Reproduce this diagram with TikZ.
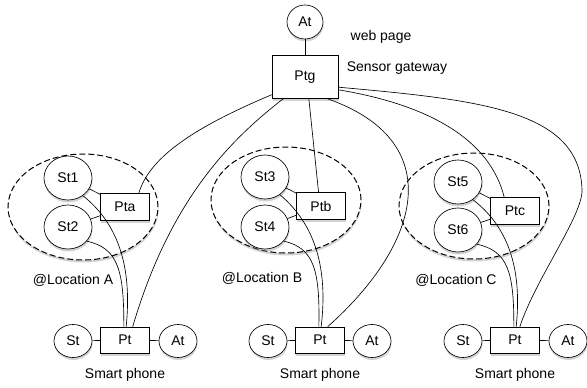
\documentclass[tikz,border=0pt]{standalone}
\usepackage{fontspec}
\setmainfont{Liberation Sans}
\usetikzlibrary{shapes.geometric,shadows}

\begin{document}
\begin{tikzpicture}[x=1pt, y=-1pt, line width=0.65pt, font=\fontsize{14}{17}\selectfont,
  sh/.style={drop shadow={opacity=0.35, shadow xshift=0.5pt, shadow yshift=-2.5pt}},
  dev/.style={ellipse, draw, fill=white, inner sep=0pt, sh},
  pbox/.style={rectangle, draw, fill=white, inner sep=0pt, minimum width=49pt, minimum height=27pt, sh},
  loc/.style={ellipse, draw, fill=white, dash pattern=on 6pt off 3pt, line width=1pt, minimum width=150pt, minimum height=106pt, sh}]
\useasboundingbox (0,0) rectangle (587,388);

\node[loc](la) at (83,207) {};
\node[loc](lb) at (286,200) {};
\node[loc](lc) at (474,206) {};

\node[dev, minimum width=36pt, minimum height=34pt](web) at (305,22) {At};
\node[pbox, minimum width=66pt, minimum height=43pt](gw) at (305,77) {Ptg};
\node(webl) at (381,37) {web page};
\node(gwl) at (397,68) {Sensor gateway};

\begin{scope}[every node/.style={dev, minimum width=48pt, minimum height=44pt}]
\node(s1) at (68,178) {St1};
\node(s2) at (68,227) {St2};
\node(s3) at (265,177) {St3};
\node(s4) at (265,227) {St4};
\node(s5) at (458,182) {St5};
\node(s6) at (458,230) {St6};
\end{scope}
\node[pbox](pa) at (125,207) {Pta};
\node[pbox](pb) at (321,206) {Ptb};
\node[pbox](pc) at (515,211) {Ptc};

\node(loca) at (73,280) {@Location A};
\node(locb) at (262,278) {@Location B};
\node(locc) at (456,280) {@Location C};

\begin{scope}[every node/.style={dev, minimum width=38pt, minimum height=33pt}]
\node(sa) at (73,341) {St};
\node(aa) at (178,341) {At};
\node(sb) at (268,341) {St};
\node(ab) at (372,341) {At};
\node(sc) at (463,341) {St};
\node(ac) at (568,341) {At};
\end{scope}
\node[pbox, minimum height=26pt, label={[label distance=11pt]below:Smart phone}](ma) at (125,340) {Pt};
\node[pbox, minimum height=26pt, label={[label distance=11pt]below:Smart phone}](mb) at (320,340) {Pt};
\node[pbox, minimum height=26pt, label={[label distance=11pt]below:Smart phone}](mc) at (515,340) {Pt};

\draw (web) -- (gw);
\draw (sa) -- (ma) -- (aa);
\draw (sb) -- (mb) -- (ab);
\draw (sc) -- (mc) -- (ac);

\draw (s1) -- (pa);
\draw (s2) -- (pa);
\draw (s1.-50) .. controls (120,225) and (132,270) .. (ma.85);
\draw (s2.-37) .. controls (118,248) and (124,270) .. (ma.95);
\draw (s3) -- (pb);
\draw (s4) -- (pb);
\draw (s3.-50) .. controls (316,225) and (328,270) .. (mb.85);
\draw (s4.-37) .. controls (314,248) and (320,270) .. (mb.95);
\draw (s5) -- (pc);
\draw (s6) -- (pc);
\draw (s5.-50) .. controls (510,228) and (522,272) .. (mc.85);
\draw (s6.-37) .. controls (508,251) and (514,272) .. (mc.95);

\draw (gw.208) .. controls (200,125) and (150,155) .. (pa.45);
\draw (gw.225) .. controls (230,140) and (170,200) .. (ma.60);
\draw (gw.280) -- (pb.100);
\draw (gw.316) .. controls (445,140) and (425,240) .. (mb.60);
\draw (gw.-21) .. controls (430,105) and (490,140) .. (pc.128);
\draw (gw.-17) .. controls (480,100) and (580,110) .. (582,190) .. controls (583,215) and (535,280) .. (mc.70);
\end{tikzpicture}
\end{document}
